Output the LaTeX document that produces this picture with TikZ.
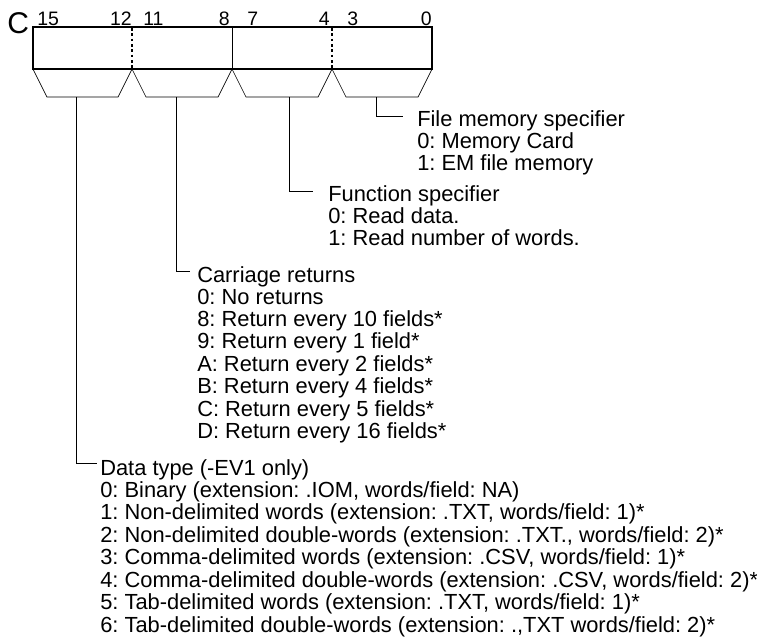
\documentclass[tikz,border=0pt]{standalone}
\usepackage{fontspec}
\setmainfont{Liberation Sans}
\usepackage{tikz}
\usetikzlibrary{calc,positioning}
\frenchspacing
\newcommand{\desclines}[1]{\begin{tabular}[t]{@{}l@{}}#1\end{tabular}}
\tikzset{
  regbox/.style={line width=1.6pt},
  fieldsep/.style={line width=1.1pt,dash pattern=on 2pt off 2pt},
  midsep/.style={line width=0.5pt},
  legline/.style={line width=0.5pt},
  bitnum/.style={font=\fontsize{14.6}{15}\selectfont,inner sep=0pt},
  desc/.style={font=\fontsize{16.4}{16.5}\selectfont,inner sep=0pt,anchor=base west}
}

\begin{document}
\begin{tikzpicture}[x=0.75pt,y=-0.75pt]
  \useasboundingbox (0,0) rectangle (757,637);
  % register C with bit numbers
  \node[inner sep=0pt,anchor=base west,font=\fontsize{22.5}{23}\selectfont] (cname) at (7,33) {C};
  \foreach \bit/\pos/\side in {15/37/west,12/132/east,11/143/west,8/230/east,
                               7/247/west,4/330/east,3/347/west,0/432/east}
    \node[bitnum,anchor=base \side] (b\bit) at (\pos,25) {\bit};
  \draw[regbox] (33,27) rectangle (432,69);
  \draw[fieldsep] (132,28) -- (132,68);
  \draw[fieldsep] (332,28) -- (332,68);
  \draw[midsep] (232,28) -- (232,68);
  \foreach \l/\r in {33/132,132/232,232/332,332/432}
    \draw[legline] (\l,69) -- (\l+14,97) -- (\r-14,97) -- (\r,69);
  \coordinate (s1) at (76,97);
  \coordinate (s2) at (176,97);
  \coordinate (s3) at (289,97);
  \coordinate (s4) at (376,97);

  % field descriptions
  \node[desc] (fmem) at (417,126) {\desclines{File memory specifier\\0: Memory Card\\1: EM file memory}};
  \node[desc] (func) at (328,201) {\desclines{Function specifier\\0: Read data.\\1: Read number of words.}};
  \node[desc] (cret) at (197,282) {\desclines{Carriage returns\\0: No returns\\8: Return every 10 fields*\\
    9: Return every 1 field*\\A: Return every 2 fields*\\B: Return every 4 fields*\\
    C: Return every 5 fields*\\D: Return every 16 fields*}};
  \node[desc] (dtype) at (100,475) {\desclines{Data type (-EV1 only)\\
    0: Binary (extension: .IOM, words/field: NA)\\
    1: Non-delimited words (extension: .TXT, words/field: 1)*\\
    2: Non-delimited double-words (extension: .TXT., words/field: 2)*\\
    3: Comma-delimited words (extension: .CSV, words/field: 1)*\\
    4: Comma-delimited double-words (extension: .CSV, words/field: 2)*\\
    5: Tab-delimited words (extension: .TXT, words/field: 1)*\\
    6: Tab-delimited double-words (extension: .,TXT words/field: 2)*}};

  \draw[legline] (s4) |- ($(fmem.base west)+(-14,-10)$);
  \draw[legline] (s3) |- ($(func.base west)+(-15,-10)$);
  \draw[legline] (s2) |- ($(cret.base west)+(-7,-11)$);
  \draw[legline] (s1) |- ($(dtype.base west)+(-3,-12)$);
\end{tikzpicture}
\end{document}
